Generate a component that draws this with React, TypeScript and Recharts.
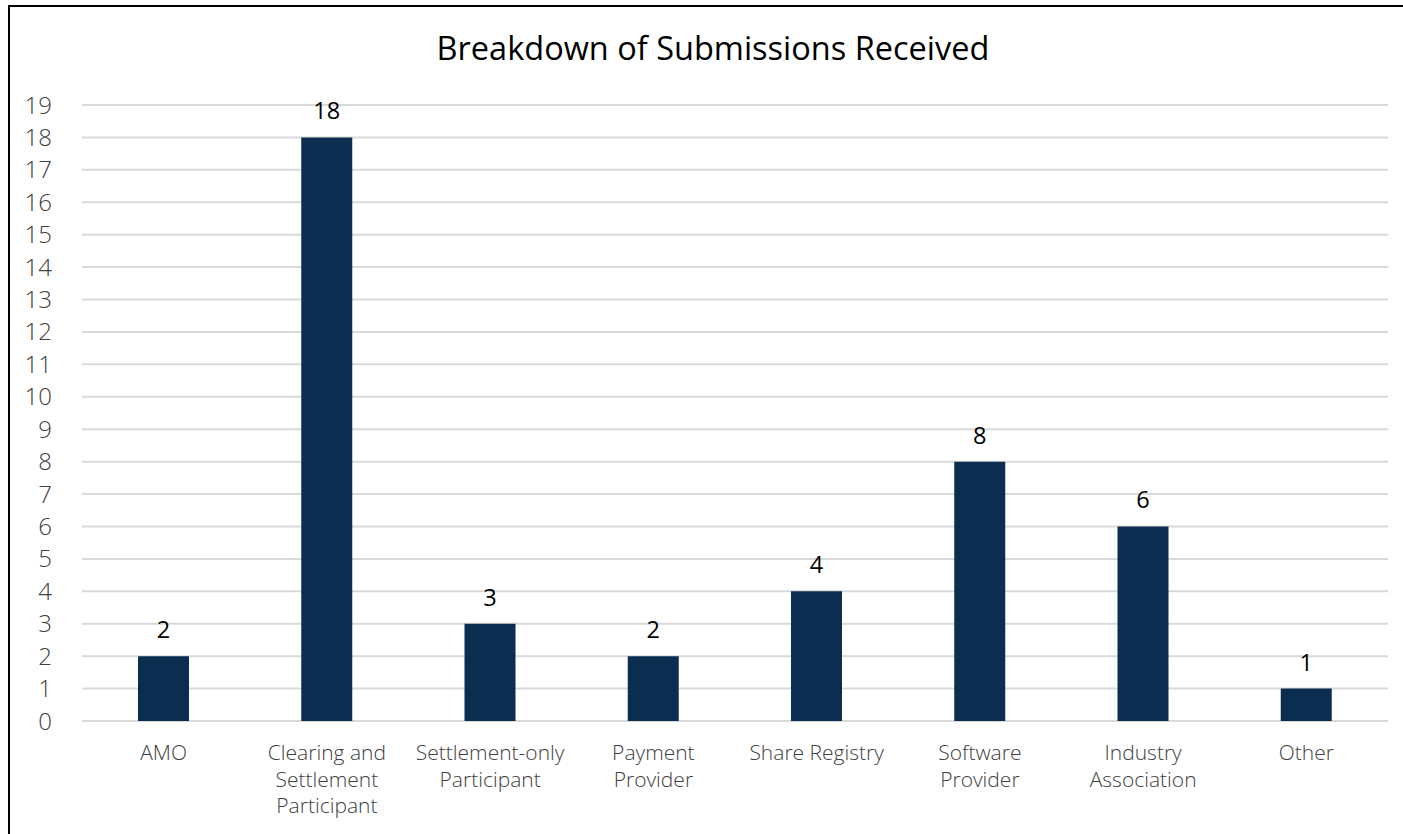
import React from "react";
import { BarChart, Bar, XAxis, YAxis, CartesianGrid, LabelList } from "recharts";

const categories = [
  "AMO",
  "Clearing and\nSettlement\nParticipant",
  "Settlement-only\nParticipant",
  "Payment\nProvider",
  "Share Registry",
  "Software\nProvider",
  "Industry\nAssociation",
  "Other",
];
const submissions = [2, 18, 3, 2, 4, 8, 6, 1];
const yTicks = [0, 1, 2, 3, 4, 5, 6, 7, 8, 9, 10, 11, 12, 13, 14, 15, 16, 17, 18, 19];
const title = "Breakdown of Submissions Received";

const data = categories.map((c, i) => ({ category: c, value: submissions[i] }));

const FONT = "'Open Sans', sans-serif";

const XTick = (props: any) => {
  const { x, y, payload } = props;
  const lines = String(payload.value).split("\n");
  return (
    <text x={x} y={y} textAnchor="middle" fill="#404040" fontFamily={FONT} fontSize={21} fontWeight={300}>
      {lines.map((l, i) => (
        <tspan key={i} x={x} dy={i === 0 ? 31 : 26.5}>
          {l}
        </tspan>
      ))}
    </text>
  );
};

export default function App() {
  return (
    <div style={{ position: "absolute", left: 0, top: 0, width: 1403, height: 834, background: "#fff", overflow: "hidden" }}>
      <div
        style={{
          position: "absolute",
          left: 8,
          top: 5,
          width: 1420,
          height: 850,
          border: "2px solid #000",
          boxSizing: "border-box",
        }}
      />
      <div
        style={{
          position: "absolute",
          left: 0,
          top: 28,
          width: 1426,
          textAlign: "center",
          fontFamily: FONT,
          fontSize: 32.5,
          color: "#000",
          lineHeight: "40px",
        }}
      >
        {title}
      </div>
      <div style={{ position: "absolute", left: 0, top: 0 }}>
        <BarChart
          width={1403}
          height={834}
          data={data}
          margin={{ top: 105, right: 15, bottom: 0, left: 0 }}
          barCategoryGap="34%"
        >
          <CartesianGrid vertical={false} stroke="#d9d9d9" strokeWidth={2} />
          <XAxis
            dataKey="category"
            axisLine={false}
            tickLine={false}
            height={113}
            interval={0}
            tick={<XTick />}
          />
          <YAxis
            width={82}
            domain={[0, 19]}
            ticks={yTicks}
            interval={0}
            axisLine={false}
            tickLine={false}
            tickSize={0}
            tickMargin={30}
            tick={{ fill: "#404040", fontFamily: FONT, fontSize: 24, fontWeight: 300 }}
          />
          <Bar dataKey="value" fill="#0b2d4f" barSize={51} isAnimationActive={false}>
            <LabelList
              dataKey="value"
              position="top"
              offset={18}
              fill="#000"
              fontFamily={FONT}
              fontSize={23.5}
            />
          </Bar>
        </BarChart>
      </div>
    </div>
  );
}
